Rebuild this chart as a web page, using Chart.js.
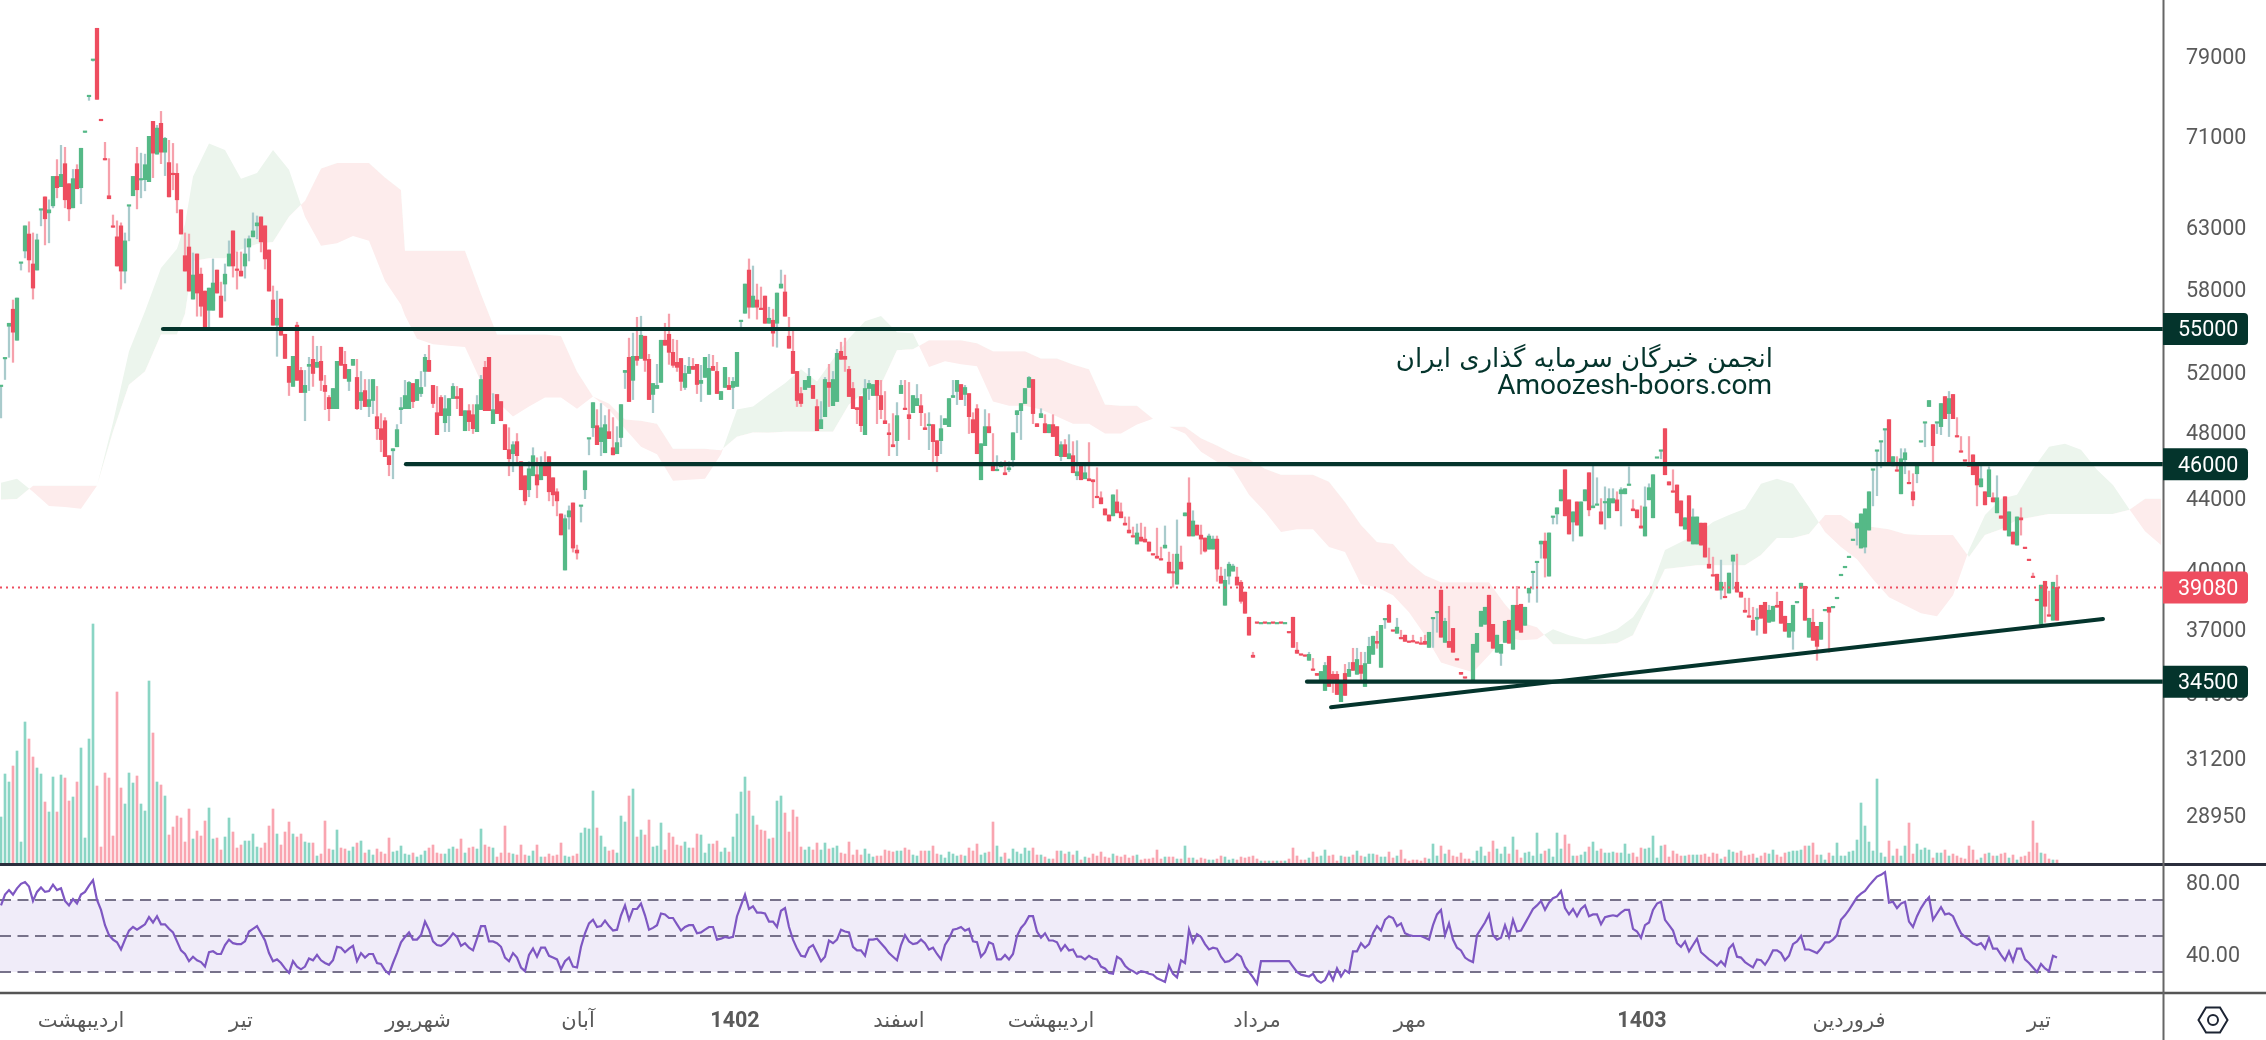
<!DOCTYPE html>
<html>
<head>
<meta charset="utf-8">
<style>
  html, body { margin: 0; padding: 0; background: #fff; }
  canvas { display: block; }
</style>
<script src="https://cdn.jsdelivr.net/npm/chart.js@4"></script>
</head>
<body>
<canvas id="chart" width="2266" height="1040"></canvas>
<script>
// Candles, one value per bar (red = up, green = down on this chart)
const opens = [
51000,52900,55420,54770,57300,60020,63040,60260,58060,61880,
64390,63630,64390,67300,66300,67480,65250,64470,67100,66210,
69850,71360,74810,78480,74520,72440,68780,65340,62920,59780,
59380,61800,64730,67300,66120,67010,68350,70960,69400,71740,
69490,70770,65500,67450,65250,62360,59380,57830,59070,57680,
56680,54980,58060,58450,57680,55860,59140,60740,59780,59430,
58990,60740,61970,62620,63290,61720,60340,57830,55280,55790,
54550,52900,51250,53050,51390,50570,51050,52490,51860,52630,
51390,50640,49500,50840,52700,52420,51520,52140,52840,49500,
50570,49640,50100,51450,48210,47520,46460,45970,46950,48150,
49570,50370,51250,49970,51450,50910,52980,52000,49840,47830,
49050,49500,50170,50980,50170,49050,49370,48660,48210,49770,
51450,49370,49370,49440,49180,48720,46890,46330,47200,46520,
44470,43820,45720,46520,44750,46020,45300,44350,44170,43820,
41890,42800,43250,41170,40900,43530,45600,47580,49900,47200,
48270,48470,47580,46570,47330,49770,52070,49970,53050,52770,
54550,52770,50100,51180,51050,54190,53830,53330,52420,52280,
51320,51860,52350,52140,51110,51390,52980,52210,52070,50500,
50640,52280,50770,51320,53330,55570,58370,56610,57450,56610,
56430,55420,55790,54700,57680,58370,55940,53620,51860,50040,
49840,51390,51660,50170,48080,48790,51450,50910,51450,53260,
52840,52840,50300,49500,49440,48400,50840,51180,51110,50370,
49440,48530,47830,47070,49050,51050,49440,48850,50370,50170,
49240,48150,48470,47390,46520,48210,48850,50170,50370,51390,
50100,50910,48980,47950,46640,47260,48340,47950,45600,45660,
46090,45360,45780,47950,49370,49840,50840,51590,49180,48340,
49180,47950,48470,47710,46520,47200,46460,46640,45480,45540,
45060,45480,45000,44940,44000,43650,43010,42670,44170,43130,
42850,42440,42000,41770,42000,41550,41500,41000,40790,40620,
40520,41330,39830,39830,40840,40040,43130,41830,42670,41880,
41660,41000,41830,41660,40040,39300,39450,40300,40200,39200,
38370,37770,36690,35630,37270,37270,37270,37270,37270,37270,
37270,37270,36800,36100,35820,35730,35680,35770,35020,34790,
34970,35250,34280,34600,33920,34460,33880,35070,35020,35530,
34880,35340,36150,36640,36300,37170,37470,37320,36880,37080,
36510,36390,36340,36360,36300,36250,36250,36830,37520,37820,
36590,37370,36100,35870,35500,34840,34660,34480,36250,36780,
37870,38070,36390,36060,36690,36250,37370,36300,38170,36930,
36830,38070,39040,39880,40410,41550,40620,42000,42900,43420,
44470,42960,41940,43190,42440,43760,44470,43300,43530,43590,
42500,43760,43950,43950,43250,44470,44530,44750,43250,42850,
42270,43470,44590,45360,46390,46820,45360,44750,44320,43130,
42390,42850,41550,42900,42900,41330,40680,40090,39670,38940,
39350,38550,39830,40790,38840,38580,37820,37570,36930,37570,
37520,36780,37920,38120,38070,37270,36880,37270,38170,38320,
39300,37420,37520,36440,36150,37320,37920,37820,38070,38530,
39720,40140,40680,41610,42550,43070,43360,44350,45660,46820,
47390,48150,45970,46460,45570,46330,46700,44820,43880,46020,
47390,48590,50040,47140,48590,49840,48850,50170,48850,47680,
46730,46180,45870,45360,44750,45120,43590,45660,43760,44000,
42820,42160,43190,41390,42900,42730,41140,40490,39590,38400,
39200,38120,37620,39350,37420];
const highs = [
51000,52900,55420,57150,57300,60020,63040,63380,62450,62360,
64390,65500,65250,67300,68810,70120,69940,66650,67920,68350,
69850,71360,74810,78480,81860,72470,70400,68900,63950,63460,
63290,62450,64730,67300,69940,69400,69310,70960,72380,72000,
73340,70860,70590,70300,68440,64390,62450,62360,60820,60740,
59620,57830,58060,60340,59460,58520,59940,61800,62620,60900,
60900,61970,62210,64130,63870,63790,63040,61060,58220,57830,
57220,54620,52350,53050,55500,52280,52070,52980,54480,53760,
53760,51730,50370,50840,52700,53690,53400,52140,52840,52840,
52000,51450,51450,51450,50980,49180,48920,46520,46950,48470,
50240,51390,51320,51180,51450,52000,53190,53830,51050,50980,
50370,50370,50170,51180,50980,50840,49370,49770,49770,50370,
51730,52700,52980,50500,50440,49970,48470,48270,47390,47900,
46150,45300,46150,47010,46390,46460,46760,46460,45180,44530,
43070,43010,43530,43700,41330,43530,45600,47580,49900,49440,
49840,49050,49440,48920,48340,49770,52070,54340,54700,55860,
55940,54480,53190,51180,52490,54190,55420,56100,54260,54190,
52900,52420,52980,52900,52490,52420,52980,53190,53120,52630,
50640,52280,51590,51590,53330,55570,58370,60340,59780,58370,
58140,57450,56610,56460,57680,59460,59070,55860,54980,52000,
50910,51390,52210,51050,50100,49970,51590,52490,52000,53540,
54050,54340,52350,51250,49570,50300,51450,51390,51110,51390,
51390,50640,48530,49180,49900,51390,51390,51250,50370,51110,
50440,49180,49240,48470,47450,49050,48850,50170,51390,51390,
51110,51050,50500,49240,49770,47260,49440,49180,47900,46520,
46150,46210,46150,47950,49370,49840,50840,51660,51450,48530,
49500,49110,48470,49110,48340,47390,47520,47830,47390,47450,
46020,46090,47330,45060,45780,44350,43360,43010,44170,44470,
43700,42900,42900,42330,42500,42550,42330,41500,40840,42270,
41220,42390,40950,40840,42730,41280,43130,45180,43250,42440,
42440,41720,41940,41830,41830,40140,40040,40410,40300,40140,
39450,38840,37570,35870,37270,37270,37270,37270,37270,37270,
37270,37270,36830,37570,36340,35770,35730,35870,35580,34880,
34970,35390,35680,34970,34970,34460,35300,35390,36060,36060,
35870,35870,36590,36640,36880,37170,37470,38220,36930,37520,
36930,36690,36390,36690,36340,36590,36690,36830,37520,37820,
38940,37520,38120,37020,35530,34930,34690,34510,36250,36780,
37870,38070,38680,37220,36690,36250,37370,37420,38170,39140,
38220,38070,39040,39880,40410,41550,42000,42000,42900,43420,
44470,45660,43880,43190,43760,43760,44470,45480,45900,45180,
43950,44640,44530,44530,44350,44590,44530,45840,43880,43300,
43530,44640,44820,45360,46390,46820,48210,44940,45660,44750,
43820,42850,44120,43360,42900,42550,42550,41170,40680,39770,
40520,39350,39830,40790,40840,38840,38530,38530,38070,38000,
38170,38320,38170,38120,38840,38370,37620,37270,38170,38320,
39300,39140,37520,37970,37120,37320,37920,38070,38070,38530,
39720,40140,40680,41610,42550,43070,43360,44350,45660,46820,
47390,48150,48790,46460,46460,46950,46950,45600,45420,46020,
47390,48590,50040,48470,48590,49840,50300,50640,50440,48920,
47710,46210,47710,46570,45900,46020,44350,45840,44290,45300,
42960,44060,43190,42050,42900,43420,41170,40520,39830,38430,
39200,39400,38890,39350,39720];
const lows = [
48900,51450,52980,52630,54190,59460,60420,59300,57220,59460,
63040,61470,61640,64560,65420,66390,64560,63460,64560,66210,
64910,71330,74420,78380,74520,72440,68780,65340,62920,59780,
57980,58450,61800,65600,64470,65420,66030,66830,67190,69310,
68440,67370,65500,66120,64130,62360,59380,57830,57220,55940,
55940,54980,54980,56380,57680,55860,57070,59780,58910,57980,
58990,58830,60180,62130,61970,60900,59540,57830,55280,53050,
54550,52900,50370,50980,51390,50570,48720,50700,50980,52280,
50700,49440,48720,49500,49500,52420,51520,50700,52420,49440,
49440,49640,48980,49180,47520,46760,46460,45300,45120,47070,
48530,49500,49500,49570,50040,50300,50980,52000,49570,47830,
49050,48020,48020,50170,49500,49050,48080,48080,47900,48020,
49440,49370,49370,48530,49180,48720,46890,45300,45540,46150,
44470,43590,44060,45300,44000,45060,45300,43820,43530,42960,
41890,39990,42210,40950,40570,42610,43950,46570,47710,47200,
46520,46700,47580,46570,46640,47070,50840,49970,50100,52420,
52900,52000,50100,49240,50840,51250,53830,52490,52280,52000,
50700,50770,51860,52140,50500,49970,51590,50440,52070,50500,
50100,50900,50770,49500,50980,54980,56160,55790,56610,55720,
56430,55420,55420,53760,53690,58060,55940,53620,51860,49640,
49640,50770,50910,50170,48080,48210,48980,49640,49700,49970,
52840,52000,50300,49500,48530,48020,47830,50100,50370,48530,
48850,48530,46520,47070,46520,50500,49440,47520,49240,49700,
48400,48150,46890,45970,45540,46640,48470,48340,50240,49770,
50100,49700,47900,47950,46640,45060,47140,47950,45600,45600,
45840,45360,45540,45840,47950,47520,49840,50910,48530,48340,
48920,47950,47950,47710,46520,46210,46460,46330,45480,45060,
45060,45120,45000,43420,44000,43650,43010,42670,42960,43130,
42850,42440,42000,41770,41390,41550,41500,41000,40790,40620,
40520,41170,39830,39090,39250,40040,42960,41830,41830,41880,
40840,40950,41110,41110,39400,39300,38170,39250,39930,39200,
38270,37770,36690,35630,37270,37270,37270,37270,37270,37270,
37270,37270,36800,36100,35820,35730,35680,35490,35020,34790,
34510,34100,34280,34010,33920,33600,33880,34740,35020,34840,
34460,34280,35340,35770,36060,35160,37020,37320,36880,36780,
36510,36390,36340,36360,36300,36250,36250,36100,36100,36830,
36590,36340,36100,35870,35500,34840,34660,34480,34510,35870,
37120,37220,36390,36060,35870,35250,36340,36300,36010,36930,
36830,37170,38320,38990,38320,40620,39620,39670,42500,42500,
43820,42960,41940,41550,42440,41830,43820,42960,43420,43590,
42500,42210,42850,43700,43250,42390,44230,44750,43250,42850,
42270,41830,43880,42850,46390,46330,45360,44750,44320,43130,
42390,42210,41550,41390,41390,41330,40680,40090,39670,38940,
38480,38550,38790,38990,38840,38580,37820,37570,36930,36690,
37520,36780,37320,37370,38070,37270,36880,36590,36010,38290,
39040,37420,36590,36440,35490,36490,37890,35870,38040,38500,
39690,40110,40650,41580,41330,41170,40900,42160,43530,44120,
45780,46020,45970,45900,45570,44230,45420,44820,43530,44880,
47360,47070,49640,46090,47900,47830,48850,47710,48850,47680,
46730,46180,45870,45360,43530,44640,43590,44060,43760,43130,
42820,42160,41830,41390,41330,41880,41140,40490,39590,38400,
37220,37320,37620,37420,37420];
const closes = [
50970,52870,55200,56460,54190,59990,60980,62360,59940,59460,
64360,65500,64130,64730,67300,66390,68440,66650,64560,67920,
66300,71330,74780,78450,81860,72470,68810,65600,62950,62130,
63040,59380,64700,65600,68440,66980,67010,66830,72380,69310,
72190,69490,68540,67480,67570,64390,60600,61300,57220,60740,
59140,57830,56380,56380,59460,57450,58370,59780,62620,59460,
59380,59780,61300,62130,63040,63790,63040,61060,57150,55280,
57220,54620,52350,50980,55280,52070,50570,52350,52840,52280,
52700,51050,50240,49500,49500,53690,52490,51320,52420,51590,
50040,50700,49640,50040,48980,48210,48720,46520,46820,47070,
49440,49500,49500,51180,50040,50500,52000,52770,51050,49240,
50240,48590,49050,50170,50300,50840,48080,49370,49110,48020,
49440,52280,52980,48530,50440,49970,48470,46890,46640,47390,
46150,45300,44470,45300,45360,45060,46020,46460,45180,44350,
43070,39990,42900,43700,41060,43500,44470,47550,48270,48400,
47390,46700,48020,47010,46640,47650,51930,52980,51390,53050,
52900,54480,52840,50440,50840,51250,54190,54620,53330,52630,
52900,50910,51860,52350,52490,51180,51590,50440,52350,52000,
50100,50910,51050,50910,50980,55540,56160,59460,56610,57150,
56460,57450,55420,55640,55420,58060,57760,54480,53400,52000,
50500,50770,50910,51050,49640,48210,48980,51250,49700,49970,
53400,53050,52140,50840,49570,50300,47830,50840,50370,51390,
50370,48720,47950,47200,47450,50500,49500,49110,49240,49700,
49700,48270,48400,48470,47450,47450,48470,48340,50240,50640,
51110,50440,50500,48790,49500,45060,47140,48340,46020,45600,
45840,45480,45660,46270,49110,49370,49840,50910,51450,48530,
48920,48530,47950,48470,48340,46460,47200,46330,46520,45300,
46020,45120,45120,45060,44060,44000,43360,43010,42960,43760,
43190,42550,42160,41830,41390,41770,41660,41500,40840,40730,
40570,41170,40410,39880,39250,40410,42960,43700,41830,42440,
41880,41720,41110,41110,41660,39670,38170,39670,39930,39620,
39350,38840,37570,35730,37300,37240,37300,37240,37300,37240,
37300,37240,36830,37570,35970,35770,35730,35490,35070,34880,
34510,34100,35680,34840,34840,33600,34880,34740,35390,34840,
35250,34280,35340,35770,36390,35160,37440,38170,36930,36780,
36540,36690,36390,36390,36340,36300,36390,36100,37490,37790,
38940,36340,36390,37020,35530,34930,34690,34510,34510,35870,
37120,37220,38680,37220,35870,35820,36340,37420,36010,38170,
38220,37170,38790,39850,40380,41390,41550,39670,42870,43070,
43820,45660,43880,42610,43760,41830,43820,45480,43420,43560,
43190,43700,42850,43700,43880,44230,44230,44720,43360,43300,
42390,41830,43880,42850,46360,46790,48210,44940,44350,44750,
43820,42210,44120,41390,41390,42550,42550,40300,39720,39770,
38940,38580,38790,40460,39350,38840,37920,37620,37420,37470,
38170,38320,37320,37370,38170,38370,37620,36590,36880,38290,
39040,39140,36590,37320,37120,36490,37890,38070,38040,38500,
39690,40110,40650,41580,42270,41170,41220,42160,45630,46790,
47360,48120,48790,45900,45600,44230,46270,44880,44350,45420,
47360,48560,49640,48470,48560,48340,50300,49180,50440,47710,
46760,46210,45900,46570,45900,44640,44350,44060,44000,43130,
42960,44060,41830,42050,41330,42850,41170,40520,39620,38430,
37220,39400,37670,37420,39080];
// Volume in arbitrary units, bar by bar
const volumes = [
46,89,81,97,112,21,141,124,106,95,89,61,51,86,51,88,85,62,66,81,
115,25,124,239,77,16,90,85,27,171,75,59,90,80,87,59,52,182,130,81,
78,67,28,36,47,45,21,54,24,32,27,42,55,24,25,13,26,45,31,15,
18,22,22,29,16,15,20,37,54,29,18,31,41,29,26,29,21,20,20,7,
9,42,14,13,33,15,14,12,16,20,22,10,13,8,14,11,9,25,11,12,
17,9,8,10,6,8,12,15,18,10,9,9,14,16,14,24,10,15,16,14,
34,18,16,15,6,10,37,10,9,8,18,8,7,12,18,6,6,9,7,8,
20,7,6,7,9,30,35,34,72,35,27,16,12,13,10,47,41,67,74,26,
33,28,43,16,17,40,13,30,26,18,17,21,15,15,29,28,10,19,19,22,
11,15,11,26,49,71,86,72,47,38,
33,32,24,25,62,67,50,31,53,46,16,13,16,13,20,13,20,14,15,17,
10,9,21,8,13,8,14,9,6,7,7,13,12,11,12,12,15,13,8,7,
12,12,12,17,9,8,5,11,9,7,8,7,15,12,19,8,10,11,41,17,
6,10,4,14,11,9,15,12,15,8,8,6,4,4,12,12,9,11,8,12,
3,6,5,9,7,11,6,5,9,7,6,8,5,7,8,3,4,4,5,13,
4,6,6,6,4,4,17,5,5,3,5,4,3,3,4,7,6,3,4,3,
6,5,6,7,4,2,2,2,2,2,2,2,4,15,7,3,3,5,11,6,
7,13,7,8,2,7,6,6,8,12,7,6,9,9,8,6,6,11,5,7,
13,4,2,3,3,2,5,4,19,7,17,9,13,7,6,10,4,4,2,12,
16,7,11,22,14,
9,16,9,26,13,5,10,11,7,30,9,12,14,6,30,14,28,19,7,7,
8,11,16,21,12,14,10,10,11,10,10,19,9,10,6,15,14,15,27,5,
17,18,6,12,9,7,7,8,8,8,8,9,6,10,9,4,6,13,11,10,
12,7,8,9,5,7,10,9,13,8,6,10,11,12,12,13,17,17,20,8,
8,3,10,7,20,7,7,11,12,23,60,37,21,12,84,10,6,22,7,14,
7,17,40,9,19,13,15,13,5,10,10,13,7,9,7,5,4,17,13,3,
5,9,10,7,7,9,10,5,8,3,6,7,11,42,20,10,9,4,3,3];
// RSI, bar by bar
const rsiValues = [
67,73,75.5,73,76.5,79,80,77.5,69.5,74.5,77,74.5,75,78.5,75.5,76.5,69.5,67,70.5,68,
73,74.5,78,81,70,64.5,56,50.5,48,46.5,42.5,48,53,55,53.5,55,56.5,60.5,57.5,61,
56.5,56.5,54,52,47,42,40,36,38.5,36.5,35.5,33,41,41.5,40,40,45,48,46,45.5,
45.5,47,52.5,54,55.5,51.5,47.5,40.5,36,37,35,32,29.5,36,33,31.5,33,37.5,36.5,39.5,
36.5,35,34,36.5,44,43.5,41,43,44.5,36,40.5,38,40,40,35,34.5,31,29,35,40.5,
46.5,49.5,52,48,48,50.5,58,53.5,47,45,44.5,46,48.5,51.5,49.5,44.5,46,43.5,42,48.5,
55.5,55.5,47,47,46,44,38,36,40.5,38,32.5,30.5,39.5,43,38.5,43.5,43.5,39,38,37,
31.5,36,38,33,32.5,44,51.5,57,59,55,55.5,58.5,55.5,53,53.5,61.5,67,59,65,65,
68,61.5,53.5,54.5,56,62.5,62,60,60,56.5,53,55,56,56,51.5,52,53.5,55,55,48,
48.5,49.5,49,49.5,61,67,73,65,66.5,63,
63,62.5,58,58,55,64,65.5,55,48,43,39,38.5,43.5,45,40.5,36,38.5,47.5,46,48,
53.5,52.5,52,44,42,42,39,48,48,48.5,46,43.5,40.5,38.5,36.5,45,50.5,47,45.5,46,
48,46,42.5,43.5,40,37,45,48.5,53.5,54,55,53,54,47,46.5,38.5,41,46.5,45.5,37,
37,39.5,37,40,50,54.5,57,61,61,52.5,49,51.5,47.5,47.5,46.5,42,45,42,42.5,38.5,
38.5,37,39,37.5,37,33,32,29.5,29,38.5,37,33.5,31.5,30.5,29,30.5,30,29,28.5,26.5,
25.5,24.5,33.5,29,27,36.5,35,53.5,46.5,51,49.5,45.5,42.5,43.5,43,38.5,35.5,36,37.5,
40,38.5,33,30,27,23.5,36,36,36,36,36,36,36,36,33,30,28.5,28,27.5,29,
25.5,24,25.5,30,25.5,32,27.5,31,29.5,41.5,41.5,46,43.5,45.5,51.5,55.5,53,59,61,60,
55.5,57,51.5,50.5,50,50,50,49,48,56,62,64.5,50.5,57,48,43.5,42,38,36.5,35.5,
50.5,54,57.5,62,50.5,48,
49,56,49.5,59,52.5,53,57,61,65,67,69.5,64.5,68.5,71,72,75,65.5,62,65,
61,65,67,61,62,62,56.5,60.5,61,61.5,61,63,64.5,64.5,54,52.5,49,56,57.5,64.5,
68,69,59,56,53,46,44,47,41.5,45,48.5,41,39,37,35.5,33.5,36,33.5,43,45.5,
38.5,38,35.5,34,32.5,37,36.5,34,37.5,42,42,40.5,36.5,39,45.5,47,50,42.5,42.5,41.5,
40.5,43,46.5,46.5,48,50.5,59,61.5,64.5,68,71.5,73.5,75,78,80.5,83,84,85.5,68.5,69,
65.5,68,69,58,55,61,65.5,69,71.5,59,62.5,66,62,62.5,61,56,51.5,49.5,48,46,
45,46,43,49,43,43,39.5,36.5,41.5,36,43,43,37,35,32.5,30,34.5,32,30.5,39,38];
// Ichimoku cloud, read every fourth bar and at the sharp steps
const cloudBars = [
0,4,8,12,16,20,24,28,32,36,40,44,46,48,52,56,60,64,68,72,76,80,84,88,92,96,100,101,104,108,112,116,
120,124,128,132,136,140,144,148,152,156,160,164,168,172,176,180,184,188,192,196,200,204,208,212,216,220,224,228,232,236,
240,244,248,252,256,260,264,268,272,276,280,284,288,292,296,300,304,308,312,316,320,324,328,332,336,340,344,348,352,356,
360,364,368,372,376,380,384,388,392,396,400,404,408,412,416,420,424,428,432,436,440,444,448,452,456,460,464,468,472,476,
480,484,488,492,496,500,504,508,512,516,520,524,528,532,536,540];
const spanA = [
44880,45120,44350,43530,43470,43360,44700,48600,53400,56310,59620,61150,63200,67300,70300,69700,67100,67600,69700,67900,63800,
61400,61600,62200,61800,58600,56800,56000,54300,53900,53800,53700,51300,49970,49000,49640,50240,50240,49500,50300,49440,48200,
47070,46600,45000,45060,45120,46600,49440,49640,50440,51200,52150,51320,52840,54340,55570,55950,54770,54700,52300,52700,
52500,52350,49970,49700,49700,49440,49000,48530,48530,47900,47900,48470,48850,48340,47900,46760,46150,45720,44170,43190,
42050,42210,42210,41220,40950,39250,39090,38680,37820,36690,35390,35160,34930,35730,36590,36440,36490,36980,36690,36490,
36690,36980,37570,38740,41060,41500,41940,42610,43010,43360,44820,45120,44820,43470,42050,41220,40570,39500,38580,38170,
37770,37620,38680,41060,43010,43950,44170,45720,47070,47260,46890,45660,44750,43360,42100,41330];
const spanB = [
43880,43930,44700,44700,44700,44700,44700,48020,51100,52000,54600,54600,56100,60180,60400,60400,61100,61550,61700,63800,65170,
68000,68500,68500,68500,67200,66100,61000,61000,61000,61000,61000,57600,54600,54600,54600,54600,54500,52000,50300,49840,48790,
48720,48530,46950,46950,46950,46860,47700,47960,47950,48020,48020,48020,48020,49770,50640,51100,53470,53540,54190,54190,
54190,53970,53400,53400,53400,52900,52900,52480,52150,49770,49700,49700,48850,48340,48340,47600,47150,46640,46300,45720,
45360,45360,45360,44940,43760,42440,41500,41390,40410,39720,39350,39350,39350,39350,38220,37320,37080,36250,36250,36250,
36250,36300,36690,38320,40040,40140,40250,40250,40250,40250,40790,41720,41720,41940,43010,43010,42390,42330,42210,41940,
41880,41880,41880,40680,41880,42210,42730,42900,43070,43070,43070,43070,43070,43300,43950,43950];
// Levels drawn on the price pane
const levelPrices = [55000, 46000, 34500];
const levelStartBars = [40.5, 101.25, 326.5];
const trendBars = [332.5, 525.5];
const trendPrices = [33350, 37480];
const lastPrice = 39080;
// Axis labels
const priceTicks = [79000, 71000, 63000, 58000, 52000, 48000, 44000, 40000, 37000, 34000, 31200, 28950];
const rsiTicks = [80, 40];
const rsiLevels = [70, 50, 30];
const monthBars = [20, 60, 104.25, 144.25, 183.5, 224.5, 262.5, 314, 352.25, 410.25, 462, 509.5];
const monthNames = ['اردیبهشت', 'تیر', 'شهریور', 'آبان', '1402', 'اسفند', 'اردیبهشت', 'مرداد', 'مهر', '1403', 'فروردین', 'تیر'];

const FIRST_BAR = -0.25, LAST_BAR = 540.5;
const FONT = "Roboto, 'DejaVu Sans', sans-serif";
const RED = '#ee4d5f', GREEN = '#55b987', DARK = '#04342c', GREY = '#5a5a5a';

const isUp = i => closes[i] >= opens[i];
const wholeRange = v => [{ x: FIRST_BAR, y: v }, { x: LAST_BAR, y: v }];

const datasets = [
    // Cloud
    { type: 'line', data: cloudBars.map((b, i) => ({ x: b, y: spanA[i] })), yAxisID: 'y', order: 20,
      pointRadius: 0, borderWidth: 0, fill: { target: '+1', above: '#ecf5ed', below: '#fdecec' } },
    { type: 'line', data: cloudBars.map((b, i) => ({ x: b, y: spanB[i] })), yAxisID: 'y', order: 21,
      pointRadius: 0, borderWidth: 0, fill: false },
    // Volume
    { data: volumes.map((v, i) => ({ x: i, y: v })), yAxisID: 'vol', order: 15, grouped: false, barThickness: 2,
      backgroundColor: volumes.map((v, i) => isUp(i) ? '#f9a5b0' : '#8ad5c4') },
    // Candles
    { data: highs.map((h, i) => ({ x: i, y: [lows[i], h] })), yAxisID: 'y', order: 11, grouped: false, barThickness: 1.6,
      backgroundColor: highs.map((h, i) => isUp(i) ? '#f6a1ac' : '#a9cbcc') },
    { data: opens.map((o, i) => ({ x: i, y: [o, closes[i]] })), yAxisID: 'y', order: 10, grouped: false, barThickness: 3.6, minBarLength: 1.5,
      backgroundColor: opens.map((o, i) => isUp(i) ? RED : GREEN) },
    // Last price
    { type: 'line', data: wholeRange(lastPrice), yAxisID: 'y', order: 5, pointRadius: 0,
      borderColor: RED, borderWidth: 2, borderDash: [2, 4] },
    // Trend line
    { type: 'line', data: trendBars.map((b, i) => ({ x: b, y: trendPrices[i] })), yAxisID: 'y', order: 3, pointRadius: 0,
      borderColor: DARK, borderWidth: 4, borderCapStyle: 'round' },
    // RSI
    { type: 'line', data: wholeRange(rsiLevels[0]), yAxisID: 'rsi', order: 9, pointRadius: 0,
      borderColor: '#77728a', borderWidth: 2.2, borderDash: [11, 6.5], fill: { target: '+2', above: '#f0ecf9', below: '#f0ecf9' } },
    { type: 'line', data: wholeRange(rsiLevels[1]), yAxisID: 'rsi', order: 8, pointRadius: 0,
      borderColor: '#77728a', borderWidth: 2.2, borderDash: [11, 6.5] },
    { type: 'line', data: wholeRange(rsiLevels[2]), yAxisID: 'rsi', order: 7, pointRadius: 0,
      borderColor: '#77728a', borderWidth: 2.2, borderDash: [11, 6.5] },
    { type: 'line', data: rsiValues.map((v, i) => ({ x: i, y: v })), yAxisID: 'rsi', order: 1, pointRadius: 0,
      borderColor: '#7e57c2', borderWidth: 2.2 }
];
levelPrices.forEach((p, i) => {
    datasets.push({ type: 'line', data: [{ x: levelStartBars[i], y: p }, { x: LAST_BAR, y: p }], yAxisID: 'y', order: 2,
        pointRadius: 0, borderColor: DARK, borderWidth: 4.2, borderCapStyle: 'round' });
});

// Pane borders, price tags, watermark and the corner logo
const chrome = {
    id: 'chrome',
    afterDraw(chart) {
        const ctx = chart.ctx, y = chart.scales.y, right = chart.chartArea.right;
        ctx.save();
        ctx.lineWidth = 3; ctx.strokeStyle = '#2b2f3d';
        ctx.beginPath(); ctx.moveTo(0, 864.5); ctx.lineTo(2266, 864.5); ctx.stroke();
        ctx.lineWidth = 2.5; ctx.strokeStyle = '#555';
        ctx.beginPath(); ctx.moveTo(0, 993); ctx.lineTo(2266, 993); ctx.stroke();
        ctx.lineWidth = 2; ctx.strokeStyle = '#666';
        ctx.beginPath(); ctx.moveTo(right + 0.5, 0); ctx.lineTo(right + 0.5, 1040); ctx.stroke();

        const tag = (price, color) => {
            const py = y.getPixelForValue(price);
            ctx.fillStyle = color;
            ctx.beginPath(); ctx.roundRect(right, py - 16, 85, 32, [0, 4, 4, 0]); ctx.fill();
            ctx.fillStyle = '#fff'; ctx.font = '21.5px ' + FONT;
            ctx.textAlign = 'left'; ctx.textBaseline = 'middle';
            ctx.fillText(String(price), right + 15, py + 2);
        };
        levelPrices.forEach(p => tag(p, DARK));
        tag(lastPrice, RED);

        ctx.fillStyle = DARK; ctx.textAlign = 'right'; ctx.textBaseline = 'middle';
        ctx.font = "26px 'DejaVu Sans', sans-serif";
        ctx.direction = 'rtl';
        ctx.fillText('انجمن خبرگان سرمایه گذاری ایران', 1773, 360);
        ctx.direction = 'ltr';
        ctx.font = '28px ' + FONT;
        ctx.fillText('Amoozesh-boors.com', 1772, 387);

        ctx.strokeStyle = '#1d2433'; ctx.lineWidth = 2;
        ctx.beginPath();
        [[-14.5, 0], [-7, -12.5], [7, -12.5], [14.5, 0], [7, 12.5], [-7, 12.5]].forEach((p, i) => {
            if (i === 0) ctx.moveTo(2213 + p[0], 1020 + p[1]); else ctx.lineTo(2213 + p[0], 1020 + p[1]);
        });
        ctx.closePath(); ctx.stroke();
        ctx.beginPath(); ctx.arc(2213, 1020, 5, 0, Math.PI * 2); ctx.stroke();
        ctx.restore();
    }
};

// Tick labels must not pull the plot area in from the canvas edges
const noPadding = s => { s.paddingTop = 0; s.paddingBottom = 0; s.paddingLeft = 0; s.paddingRight = 0; };
const yAxisBase = {
    type: 'logarithmic', position: 'right', bounds: 'data', beginAtZero: false, offset: false,
    grid: { display: false }, border: { display: false },
    afterFit(s) { s.width = 103; noPadding(s); }
};
const tickStyle = { autoSkip: false, padding: 15, labelOffset: 3, color: GREY, font: { family: FONT, size: 21.5 } };

new Chart(document.getElementById('chart'), {
    type: 'bar',
    data: { datasets },
    options: {
        responsive: false, animation: false, devicePixelRatio: 1,
        layout: { padding: 0 },
        plugins: { legend: { display: false }, tooltip: { enabled: false } },
        scales: {
            x: {
                type: 'linear', position: 'bottom', min: FIRST_BAR, max: LAST_BAR, bounds: 'data', offset: false,
                grid: { display: false, offset: false }, border: { display: false },
                afterBuildTicks(s) { s.ticks = monthBars.map(value => ({ value })); },
                afterFit(s) { s.height = 47; noPadding(s); },
                ticks: {
                    autoSkip: false, maxRotation: 0, minRotation: 0, padding: 8, color: GREY,
                    callback: (v, i) => monthNames[i],
                    font: ctx => /^\d/.test(monthNames[ctx.index] || '')
                        ? { family: FONT, size: 21.5, weight: 'bold' }
                        : { family: "'DejaVu Sans', sans-serif", size: 21 }
                }
            },
            y: {
                ...yAxisBase, stack: 'panes', stackWeight: 864, min: 27110, max: 84980,
                afterBuildTicks(s) { s.ticks = priceTicks.map(value => ({ value })); },
                ticks: { ...tickStyle, callback: v => String(v) }
            },
            rsi: {
                ...yAxisBase, type: 'linear', stack: 'panes', stackWeight: 129, min: 18.33, max: 90,
                afterBuildTicks(s) { s.ticks = rsiTicks.map(value => ({ value })); },
                ticks: { ...tickStyle, callback: v => v.toFixed(2) }
            },
            vol: { type: 'linear', position: 'right', display: false, min: -130, max: 863, bounds: 'data', offset: false }
        }
    },
    plugins: [chrome]
});
</script>
</body>
</html>
